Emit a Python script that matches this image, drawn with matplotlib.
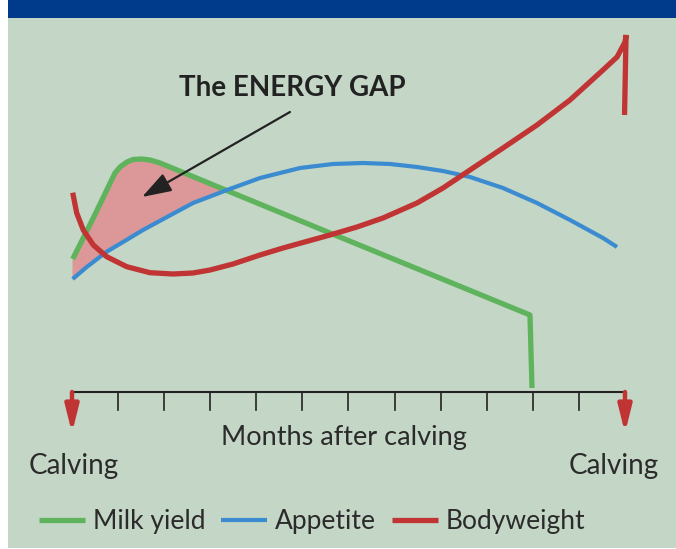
import matplotlib
matplotlib.use('Agg')
import matplotlib.pyplot as plt
from matplotlib.patches import Rectangle
import numpy as np

plt.rcParams['font.family'] = ['Lato', 'DejaVu Sans']

# Curves: x in months after calving, y in arbitrary "level" units
milk_x = [0.015, 0.462, 0.933, 1.042, 1.193, 1.324, 1.519, 1.693, 1.910, 5.598, 9.938, 9.982]
milk_y = [13.3, 17.4, 21.9, 22.5, 23.0, 23.25, 23.3, 23.2, 22.9, 15.9, 7.7, 0.4]

appetite_x = [0.015, 0.319, 0.753, 1.107, 1.541, 2.062, 2.626, 3.364, 4.080, 4.948, 5.664,
              6.315, 6.901, 7.487, 8.051, 8.637, 9.353, 10.091, 10.807, 11.523, 11.827]
appetite_y = [11.3, 12.5, 14.03, 15.0, 16.2, 17.5, 18.9, 20.2, 21.4, 22.4, 22.8,
              22.9, 22.8, 22.5, 22.1, 21.5, 20.4, 18.9, 17.2, 15.4, 14.5]

body_x = [0.015, 0.102, 0.245, 0.462, 0.753, 1.187, 1.693, 2.192, 2.626, 2.995, 3.494, 4.080,
          4.579, 5.598, 6.184, 6.749, 7.487, 8.051, 8.637, 9.353, 10.091, 10.807, 11.523,
          11.827, 12.001, 12.023, 11.99]
body_y = [19.93, 17.9, 16.2, 14.7, 13.53, 12.53, 11.93, 11.8, 11.9, 12.2, 12.8, 13.7,
          14.4, 15.7, 16.5, 17.4, 18.9, 20.4, 22.2, 24.4, 26.7, 29.2, 32.2,
          33.5, 35.0, 35.7, 27.7]

months = np.arange(0, 13)
tick_months = months[1:-1]
calving_months = [0, 12]

labels = ['Milk yield', 'Appetite', 'Bodyweight']
colors = ['#5fb35c', '#3b8bd0', '#c03434']
text_color = '#2b2b2b'

bg = '#c4d6c6'
banner = '#003a8a'

fig = plt.figure(figsize=(6.76, 5.49), dpi=100)
fig.patch.set_facecolor('white')
# panel background and blue banner (cropped title strip)
fig.patches.append(Rectangle((8/676, 1/549), 668/676, 530/549, transform=fig.transFigure,
                             facecolor=bg, edgecolor='none', zorder=0))
fig.patches.append(Rectangle((8/676, 1 - 18/549), 668/676, 18/549, transform=fig.transFigure,
                             facecolor=banner, edgecolor='none', zorder=0))

ax = fig.add_axes([0, 0, 1, 1])
ax.set_zorder(2)
ax.set_facecolor('none')
ax.set_xlim(-72/46.083, 604/46.083)
ax.set_ylim(-15.7, 39.2)
ax.axis('off')

# energy gap: where milk yield is above appetite
grid = np.linspace(0, 5, 500)
g = np.interp(grid, milk_x, milk_y)
b = np.interp(grid, appetite_x, appetite_y)
ax.fill_between(grid, b, g, where=g >= b, interpolate=True, color='#dc9898', lw=0, zorder=1)

l_milk, = ax.plot(milk_x, milk_y, color=colors[0], lw=3.8, solid_capstyle='butt', zorder=3, label=labels[0])
l_app, = ax.plot(appetite_x, appetite_y, color=colors[1], lw=3.0, solid_capstyle='butt', zorder=3, label=labels[1])
l_body, = ax.plot(body_x, body_y, color=colors[2], lw=3.8, solid_capstyle='butt',
                  solid_joinstyle='miter', zorder=4, label=labels[2])

# time axis
ax.plot([months[0], months[-1]], [0, 0], color='#222222', lw=1.5, zorder=2)
for m in tick_months:
    ax.plot([m, m], [0, -1.8], color='#222222', lw=1.2, zorder=2)
for m in calving_months:
    ax.annotate('', xy=(m, -4.1), xytext=(m, 0),
                arrowprops=dict(arrowstyle='-|>,head_length=0.8,head_width=0.2',
                                mutation_scale=20, color=colors[2], lw=3.2,
                                shrinkA=0, shrinkB=0), zorder=5)

ax.text(5.90, -4.5, 'Months after calving', ha='center', va='center', fontsize=19.5, color=text_color)
ax.text(0.03, -8.2, 'Calving', ha='center', va='baseline', fontsize=20, color=text_color)
ax.text(11.76, -8.2, 'Calving', ha='center', va='baseline', fontsize=20, color=text_color)

# energy gap label and pointer
ax.text(4.77, 30.4, 'The ENERGY GAP', ha='center', va='center', fontsize=20,
        fontweight='bold', color='#222222')
ax.annotate('', xy=(1.52, 19.5), xytext=(4.73, 28.0),
            arrowprops=dict(arrowstyle='-|>,head_length=0.9,head_width=0.3',
                            mutation_scale=20, color='#222222', lw=1.6,
                            shrinkA=0, shrinkB=0), zorder=6)

ax.legend(handles=[l_milk, l_app, l_body], loc='center left', bbox_to_anchor=(39/676, 1 - 522/549),
          ncol=3, frameon=False, fontsize=19, handlelength=1.74, handletextpad=0.3,
          columnspacing=0.6, borderpad=0, borderaxespad=0, labelcolor=text_color)

fig.savefig('out.png', dpi=100, facecolor=fig.get_facecolor())
